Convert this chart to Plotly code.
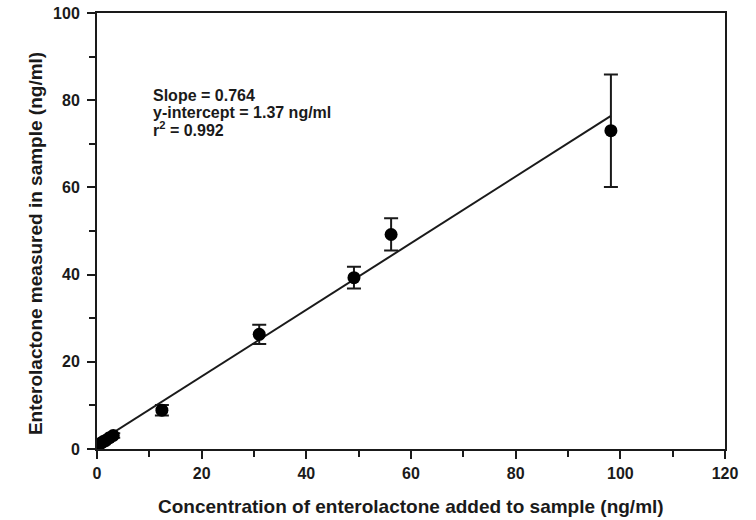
import plotly.graph_objects as go

# Data
added = [0.0, 0.4, 0.8, 1.2, 1.7, 2.4, 3.1, 12.4, 31.0, 49.1, 56.2, 98.2]
measured = [0.8, 1.1, 1.4, 1.7, 2.0, 2.6, 3.1, 8.9, 26.3, 39.3, 49.2, 73.0]
errors = [0.3, 0.3, 0.3, 0.3, 0.3, 0.4, 0.5, 1.2, 2.2, 2.5, 3.7, 12.9]

slope = 0.764
intercept = 1.37
fit_x = [0.0, 98.2]

x_ticks = [0, 20, 40, 60, 80, 100, 120]
y_ticks = [0, 20, 40, 60, 80, 100]

stats_lines = ["Slope = 0.764", "y-intercept = 1.37 ng/ml", "r<sup>2</sup> = 0.992"]
stats_y = [78.7, 74.7, 70.6]

x_title = "Concentration of enterolactone added to sample (ng/ml)"
y_title = "Enterolactone measured in sample (ng/ml)"

FONT = "Liberation Sans, Arial, sans-serif"
INK = "#1a1a1a"

fig = go.Figure()

fig.add_trace(go.Scatter(
    x=fit_x,
    y=[slope * v + intercept for v in fit_x],
    mode="lines",
    line=dict(color=INK, width=2),
    showlegend=False,
    hoverinfo="skip",
))

fig.add_trace(go.Scatter(
    x=added,
    y=measured,
    mode="markers",
    marker=dict(color="black", size=13, symbol="circle"),
    error_y=dict(type="data", array=errors, visible=True,
                 color=INK, thickness=2, width=7),
    showlegend=False,
))

for line, yv in zip(stats_lines, stats_y):
    fig.add_annotation(
        x=10.3, y=yv, xref="x", yref="y",
        xanchor="left", yanchor="bottom", align="left",
        showarrow=False, text=line,
        font=dict(family=FONT, size=16, color=INK, weight="bold"),
    )

fig.add_annotation(
    x=0.5, y=-0.133, xref="paper", yref="paper",
    xanchor="center", yanchor="middle", showarrow=False,
    text=x_title,
    font=dict(family=FONT, size=19, color=INK, weight="bold"),
)
fig.add_annotation(
    x=-0.0987, y=0.47, xref="paper", yref="paper",
    xanchor="center", yanchor="middle", showarrow=False,
    textangle=-90, text=y_title,
    font=dict(family=FONT, size=19, color=INK, weight="bold"),
)

axis_common = dict(
    showline=True, linecolor=INK, linewidth=2, mirror=True,
    ticks="outside", tickcolor=INK, ticklen=8, tickwidth=2,
    showgrid=False, zeroline=False, automargin=False,
    ticklabeloverflow="allow",
    tickfont=dict(family=FONT, size=16, color=INK, weight="bold"),
    minor=dict(ticks="outside", ticklen=6, tickwidth=2, tickcolor=INK, dtick=10, showgrid=False),
)

fig.update_xaxes(range=[0, 120], tickvals=x_ticks, ticklabelstandoff=1, **axis_common)
fig.update_yaxes(range=[0, 100], tickvals=y_ticks, ticklabelstandoff=4, **axis_common)

fig.update_layout(
    width=756, height=520,
    margin=dict(l=97, r=31, t=13, b=71),
    plot_bgcolor="white", paper_bgcolor="white",
    font=dict(family=FONT, color=INK),
)

fig.write_html("out.html", config={"displayModeBar": False},
               post_script="document.body.style.margin='0';")
